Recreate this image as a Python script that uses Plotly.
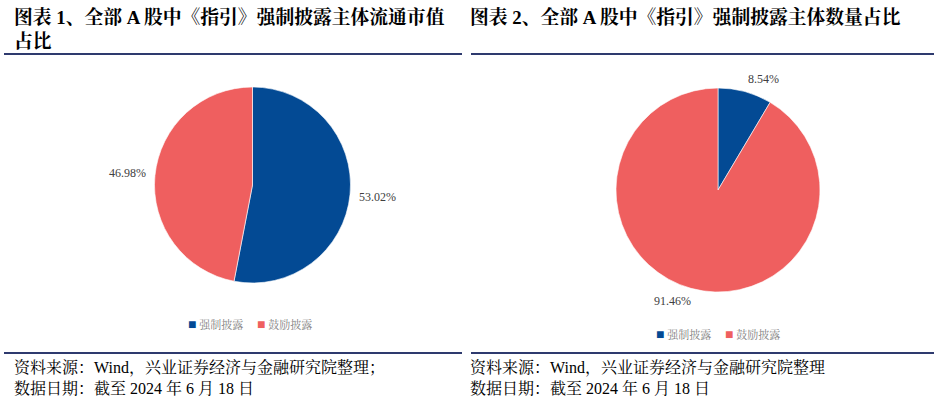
import math
import plotly.graph_objects as go

# ---- data ----
labels = ["强制披露", "鼓励披露"]
share_float_mv = [53.02, 46.98]      # 图表1：流通市值占比 (%)
share_count = [8.54, 91.46]          # 图表2：数量占比 (%)
title1 = "图表 1、全部 A 股中《指引》强制披露主体流通市值<br>占比"
title2 = "图表 2、全部 A 股中《指引》强制披露主体数量占比"
source1 = "资料来源：Wind，兴业证券经济与金融研究院整理；<br>数据日期：截至 2024 年 6 月 18 日"
source2 = "资料来源：Wind，兴业证券经济与金融研究院整理<br>数据日期：截至 2024 年 6 月 18 日"

# ---- style ----
W, H = 942, 402
colors = ["#034A94", "#EF5F5F"]
serif = "Liberation Serif, Times New Roman, Noto Serif CJK SC, Noto Sans CJK SC, serif"
line_color = "#2E3A6E"

# pie geometry (pixels): center x, center y (from top), radius; label radius factor / angle offset
pies = [
    dict(vals=share_float_mv, cx=252.5, cy=185, r=98, lf=1.28, da=0, ly=324, lx=250),
    dict(vals=share_count, cx=718, cy=190, r=102, lf=1.18, da=7, ly=334, lx=718),
]

fig = go.Figure()
annotations = []
for p in pies:
    x0 = (p["cx"] - p["r"]) / W
    x1 = (p["cx"] + p["r"]) / W
    ycb = H - p["cy"]
    y0 = (ycb - p["r"]) / H
    y1 = (ycb + p["r"]) / H
    fig.add_trace(go.Pie(
        labels=labels, values=p["vals"], sort=False, direction="clockwise",
        rotation=0, textinfo="none", hoverinfo="label+percent",
        marker=dict(colors=colors, line=dict(color="white", width=0.6)),
        domain=dict(x=[x0, x1], y=[y0, y1]),
        showlegend=False,
    ))
    # data labels near slice midpoints
    total = sum(p["vals"])
    start = 0.0
    for v in p["vals"]:
        mid = ((start + v / 2) / total * 360 + p["da"]) * math.pi / 180
        start += v
        lx = p["cx"] + p["lf"] * p["r"] * math.sin(mid)
        ly = p["cy"] - p["lf"] * p["r"] * math.cos(mid)
        annotations.append(dict(
            x=lx / W, y=(H - ly) / H, xref="paper", yref="paper",
            text=f"{v:.2f}%", showarrow=False,
            font=dict(family=serif, size=12, color="#404040"),
            xanchor="center", yanchor="middle",
        ))
    # legend (drawn as text: coloured squares + labels)
    parts = [f"<span style='color:{c};font-size:14px'>■</span> {lab}" for c, lab in zip(colors, labels)]
    annotations.append(dict(
        x=p["lx"] / W, y=1 - p["ly"] / H, xref="paper", yref="paper",
        text="　 ".join(parts), showarrow=False, xanchor="center", yanchor="middle",
        font=dict(family=serif, size=11, color="#7F7F7F"),
    ))

# titles
for xt, t in [(12, title1), (468, title2)]:
    annotations.append(dict(x=xt / W, y=1 - 5 / H, xref="paper", yref="paper", text=f"<b>{t}</b>",
                            showarrow=False, xanchor="left", yanchor="top", align="left",
                            font=dict(family=serif, size=18.8, color="#000000")))
# sources
for xs, s in [(12, source1), (468, source2)]:
    annotations.append(dict(x=xs / W, y=1 - 356 / H, xref="paper", yref="paper", text=s,
                            showarrow=False, xanchor="left", yanchor="top", align="left",
                            font=dict(family=serif, size=16, color="#000000")))

shapes = []
for (xa, xb) in [(4, 462), (471, 934)]:
    for yy in (54, 353):
        shapes.append(dict(type="line", xref="paper", yref="paper",
                           x0=xa / W, x1=xb / W, y0=1 - yy / H, y1=1 - yy / H,
                           line=dict(color=line_color, width=2)))

fig.update_layout(
    width=W, height=H,
    margin=dict(l=0, r=0, t=0, b=0),
    paper_bgcolor="white", plot_bgcolor="white",
    annotations=annotations, shapes=shapes,
    showlegend=False,
)

fig.write_html("out.html")
